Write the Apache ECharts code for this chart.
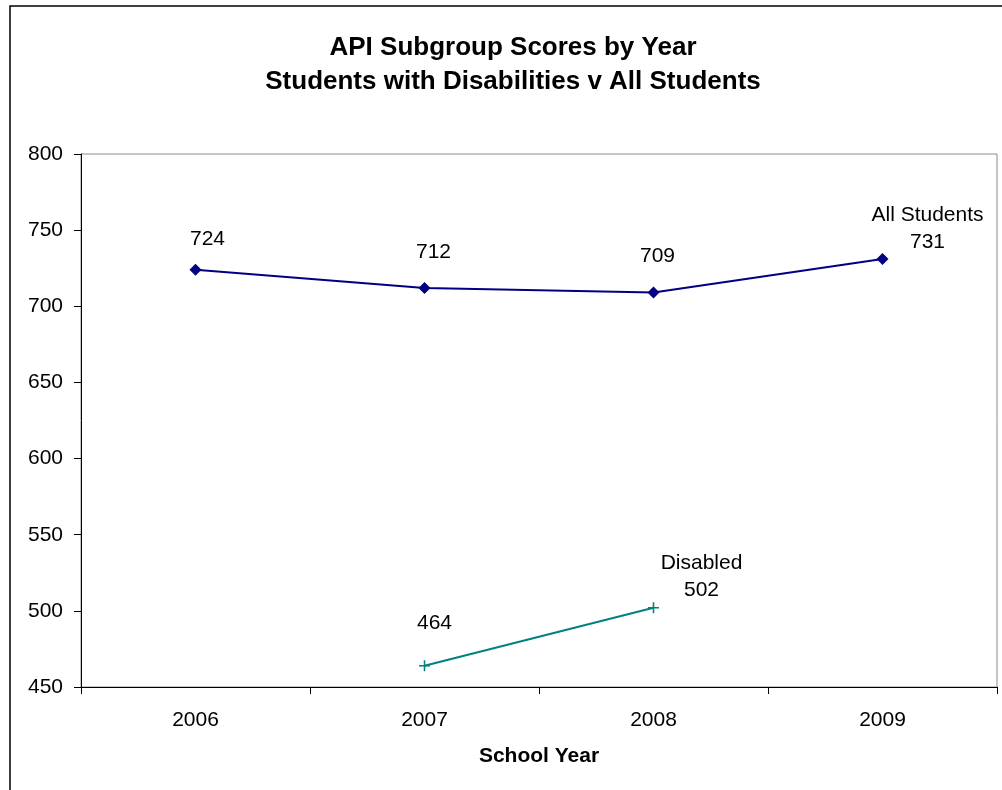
<!DOCTYPE html>
<html>
<head>
<meta charset="utf-8">
<script src="https://cdn.jsdelivr.net/npm/echarts@6/dist/echarts.min.js"></script>
<style>
  html, body { margin: 0; padding: 0; background: #fff; }
  #chart { width: 1002px; height: 790px; }
</style>
</head>
<body>
<div id="chart"></div>
<script>
// School years on the category axis
const years = ['2006', '2007', '2008', '2009'];
// API scores per subgroup (null = no score reported that year)
const allStudents = [724, 712, 709, 731];
const disabled = [null, 464, 502, null];
// Value axis range
const yMin = 450;
const yMax = 800;
const yStep = 50;

const FONT = '"Liberation Sans", Arial, sans-serif';

// Hand-placed label offsets (dx, dy from the marker centre), as in the original sheet
const allOffsets = [[12, -31], [9, -36], [4, -36], [45, -30]];
const disOffsets = [null, [10, -42], [48, -31], null];

function buildData(values, offsets, seriesName) {
  const lastIdx = values.reduce((acc, v, i) => (v != null ? i : acc), -1);
  return values.map((v, i) => {
    if (v == null) return null;
    const off = offsets[i] || [0, -30];
    return {
      value: v,
      label: {
        show: true,
        position: 'inside',
        offset: off,
        align: 'center',
        verticalAlign: 'middle',
        lineHeight: 27,
        formatter: i === lastIdx ? seriesName + '\n' + v : String(v)
      }
    };
  });
}

const chart = echarts.init(document.getElementById('chart'), null, { renderer: 'canvas' });

chart.setOption({
  backgroundColor: '#ffffff',
  animation: false,
  title: {
    text: 'API Subgroup Scores by Year\nStudents with Disabilities v All Students',
    left: 508,
    textAlign: 'center',
    top: 26,
    textStyle: {
      fontFamily: FONT,
      fontSize: 26,
      fontWeight: 'bold',
      color: '#000',
      lineHeight: 34
    }
  },
  graphic: [{
    type: 'rect',
    shape: { x: 10, y: 6, width: 1010, height: 800 },
    style: { fill: 'none', stroke: '#000', lineWidth: 1.5 },
    silent: true,
    z: 0
  }],
  grid: {
    left: 81,
    right: 5,
    top: 154,
    bottom: 103,
    show: true,
    borderColor: '#8c8c8c',
    borderWidth: 1,
    backgroundColor: 'transparent'
  },
  xAxis: {
    type: 'category',
    data: years,
    boundaryGap: true,
    name: 'School Year',
    nameLocation: 'middle',
    nameGap: 59,
    nameTextStyle: { fontFamily: FONT, fontSize: 21, fontWeight: 'bold', color: '#000' },
    axisLine: { show: true, lineStyle: { color: '#000', width: 1 } },
    axisTick: { show: true, length: 7, inside: false, lineStyle: { color: '#000' } },
    axisLabel: { fontFamily: FONT, fontSize: 21, color: '#000', margin: 23 },
    splitLine: { show: false }
  },
  yAxis: {
    type: 'value',
    min: yMin,
    max: yMax,
    interval: yStep,
    axisLine: { show: true, lineStyle: { color: '#000', width: 1 } },
    axisTick: { show: true, length: 7, inside: false, lineStyle: { color: '#000' } },
    axisLabel: { fontFamily: FONT, fontSize: 21, color: '#000', margin: 18 },
    splitLine: { show: false }
  },
  series: [
    {
      name: 'All Students',
      type: 'line',
      data: buildData(allStudents, allOffsets, 'All Students'),
      symbol: 'diamond',
      symbolSize: 12,
      itemStyle: { color: '#000080' },
      lineStyle: { color: '#000080', width: 2 },
      label: { fontFamily: FONT, fontSize: 21, color: '#000' },
      z: 3
    },
    {
      name: 'Disabled',
      type: 'line',
      data: buildData(disabled, disOffsets, 'Disabled'),
      connectNulls: false,
      symbol: 'path://M4.3,0h1.4v4.3h4.3v1.4h-4.3v4.3h-1.4v-4.3h-4.3v-1.4h4.3z',
      symbolSize: 11,
      itemStyle: { color: '#008080' },
      lineStyle: { color: '#008080', width: 2 },
      label: { fontFamily: FONT, fontSize: 21, color: '#000' },
      z: 3
    }
  ]
});
</script>
</body>
</html>
